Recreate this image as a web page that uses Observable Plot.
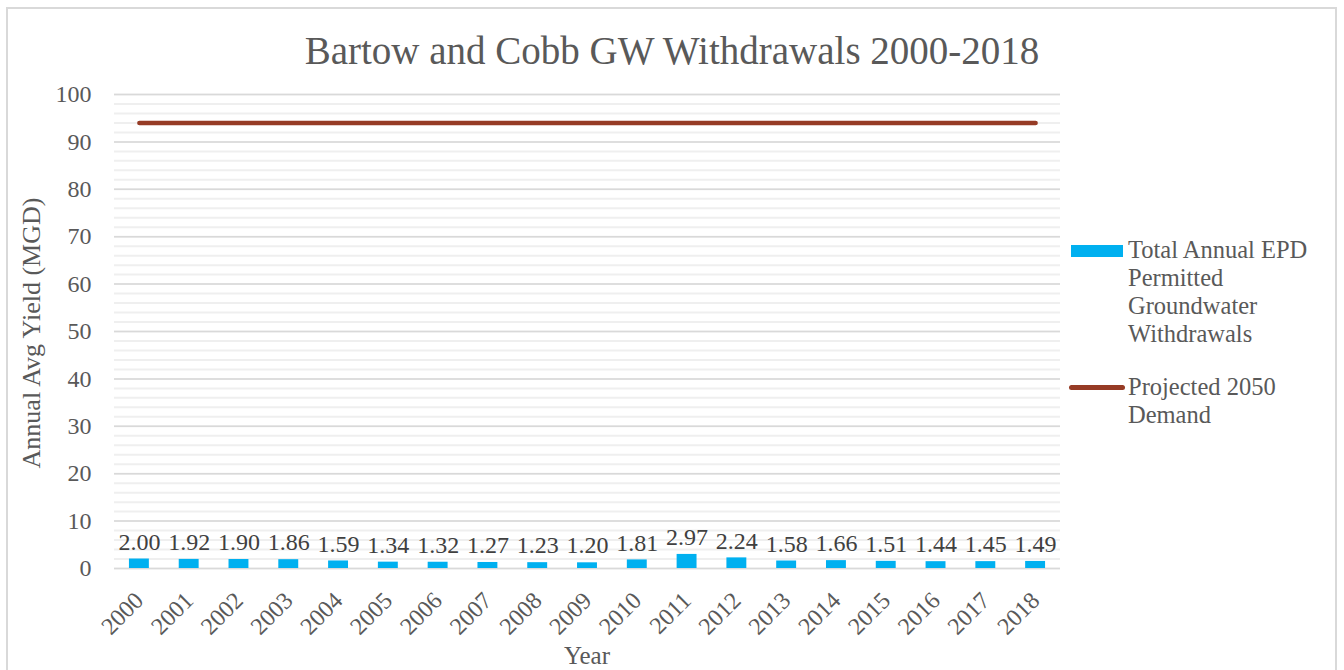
<!DOCTYPE html>
<html>
<head>
<meta charset="utf-8">
<script src="https://cdn.jsdelivr.net/npm/d3@7"></script>
<script src="https://cdn.jsdelivr.net/npm/@observablehq/plot@0.6"></script>
<style>
  html, body { margin: 0; padding: 0; background: #fff; }
  #wrap { position: relative; width: 1344px; height: 670px; overflow: hidden; font-family: "Liberation Serif", serif; color: #595959; }
  #frame { position: absolute; left: 6px; top: 7px; width: 1331px; height: 700px; border: 2px solid #d9d9d9; box-sizing: border-box; }
  #chart { position: absolute; left: 0; top: 0; }
  .abs { position: absolute; white-space: nowrap; }
  #title { left: 0; width: 1344px; text-align: center; top: 28px; font-size: 39px; line-height: 46px; }
  #ylab { left: 32px; top: 333px; font-size: 26px; transform: translate(-50%, -50%) rotate(-90deg); }
  #xlab { left: 587px; top: 656px; font-size: 25px; transform: translate(-50%, -50%); }
  .leg { position: absolute; left: 1128px; font-size: 24.5px; line-height: 28px; }
  .sw { position: absolute; }
</style>
</head>
<body>
<div id="wrap">
  <div id="frame"></div>
  <div id="chart"></div>
  <div id="title" class="abs">Bartow and Cobb GW Withdrawals 2000-2018</div>
  <div id="ylab" class="abs">Annual Avg Yield (MGD)</div>
  <div id="xlab" class="abs">Year</div>
  <div class="sw" style="left:1071px;top:245px;width:52px;height:12px;background:#00B0F0"></div>
  <div class="leg" style="top:236px">Total Annual EPD<br>Permitted<br>Groundwater<br>Withdrawals</div>
  <div class="sw" style="left:1069px;top:385px;width:56px;height:5px;border-radius:3px;background:#963B25"></div>
  <div class="leg" style="top:373px">Projected 2050<br>Demand</div>
</div>
<script>
const years = ["2000","2001","2002","2003","2004","2005","2006","2007","2008","2009","2010","2011","2012","2013","2014","2015","2016","2017","2018"];
const withdrawals = [2.00,1.92,1.90,1.86,1.59,1.34,1.32,1.27,1.23,1.20,1.81,2.97,2.24,1.58,1.66,1.51,1.44,1.45,1.49];
const demand2050 = [94,94,94,94,94,94,94,94,94,94,94,94,94,94,94,94,94,94,94];
const yMajorTicks = [0,10,20,30,40,50,60,70,80,90,100];
const yMinorTicks = d3.range(0, 101, 2);

const rows = years.map((y, i) => ({year: y, w: withdrawals[i], d: demand2050[i]}));

const chart = Plot.plot({
  width: 1344,
  height: 670,
  marginLeft: 114,
  marginRight: 284,
  marginTop: 94,
  marginBottom: 102,
  style: {fontFamily: "Liberation Serif", color: "#595959", background: "transparent"},
  x: {domain: years, paddingInner: 0.6, paddingOuter: 0.3, round: false, label: null},
  y: {domain: [0, 100], label: null},
  marks: [
    Plot.ruleY(yMinorTicks, {stroke: "#efefef", strokeWidth: 2}),
    Plot.ruleY(yMajorTicks, {stroke: "#d9d9d9", strokeWidth: 1.5}),
    Plot.barY(rows, {x: "year", y: "w", fill: "#00B0F0"}),
    Plot.lineY(rows, {x: "year", y: "d", stroke: "#963B25", strokeWidth: 4.5, strokeLinecap: "round"}),
    Plot.text(rows, {x: "year", y: "w", text: d => d.w.toFixed(2), dy: -17, fontSize: 24, fill: "#404040"}),
    Plot.axisY(yMajorTicks, {tickSize: 0, tickPadding: 23, fontSize: 24, label: null}),
    Plot.axisX({tickSize: 0, tickPadding: 28, tickRotate: -45, fontSize: 24, label: null})
  ]
});
document.getElementById("chart").appendChild(chart);
</script>
</body>
</html>
